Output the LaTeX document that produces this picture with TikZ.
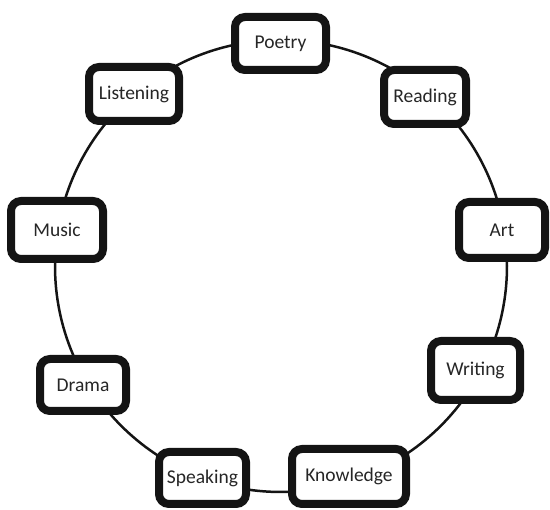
\documentclass[tikz,border=0pt]{standalone}
\usepackage{fontspec}
\setmainfont{Carlito}
\begin{document}
\begin{tikzpicture}[x=1pt,y=-1pt,
  ring/.style={draw=black!92, line width=2.5pt},
  topic/.style={draw=black!92, line width=8pt, rounded corners=10pt,
    fill=white, text=black!85, inner sep=0pt,
    font=\fontsize{19.5}{23}\selectfont},
]
\useasboundingbox (0,0) rectangle (550,510);
% ring joining the topics
\coordinate (hub) at (281,266);
\draw[ring] (hub) circle[radius=226];
% topic boxes around the ring
\node[topic, minimum width=91pt, minimum height=53pt] (poetry)    at (280.5,43.5) {Poetry};
\node[topic, minimum width=82pt, minimum height=54pt] (reading)   at (425,97)     {Reading};
\node[topic, minimum width=86pt, minimum height=56pt] (art)       at (502,230)    {Art};
\node[topic, minimum width=89pt, minimum height=59pt] (writing)   at (475.5,370.5){Writing};
\node[topic, minimum width=114pt,minimum height=55pt] (knowledge) at (349,476.5)  {Knowledge};
\node[topic, minimum width=87pt, minimum height=52pt] (speaking)  at (202.5,478)  {Speaking};
\node[topic, minimum width=86pt, minimum height=52pt] (drama)     at (83,385)     {Drama};
\node[topic, minimum width=92pt, minimum height=58pt] (music)     at (57,230)     {Music};
\node[topic, minimum width=90pt, minimum height=54pt] (listening) at (134,94)     {Listening};
\end{tikzpicture}
\end{document}
